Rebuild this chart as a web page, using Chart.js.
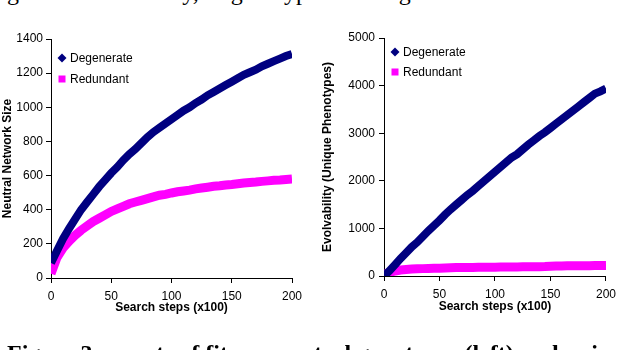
<!DOCTYPE html>
<html>
<head>
<meta charset="utf-8">
<script src="https://cdn.jsdelivr.net/npm/chart.js@4/dist/chart.umd.min.js"></script>
<style>
    html, body { margin: 0; padding: 0; background: #fff; }
    #page { position: relative; width: 622px; height: 350px; overflow: hidden; background: #fff; }
    canvas { position: absolute; top: 0; }
    #leftChart { left: 0; }
    #rightChart { left: 310px; }
    .caption { position: absolute; left: 7px; white-space: nowrap; font-family: "Liberation Serif", "DejaVu Serif", serif; font-size: 24px; line-height: 24px; color: #000; }
    #capTop { top: -20px; }
    #capBottom { top: 341px; font-weight: bold; }
</style>
</head>
<body>
<div id="page">
    <div class="caption" id="capTop">greater evolvability, as genotypes which grows at a much faster rate than the redundant model</div>
    <canvas id="leftChart" width="310" height="350"></canvas>
    <canvas id="rightChart" width="312" height="350"></canvas>
    <div class="caption" id="capBottom">Figure 3: counts of fitness neutral genotypes (left) and unique phenotypes (right)</div>
</div>
<script>
// Search steps (x100), sampled every 5
const steps = [0, 5, 10, 15, 20, 25, 30, 35, 40, 45, 50, 55, 60, 65, 70, 75, 80, 85, 90, 95,
    100, 105, 110, 115, 120, 125, 130, 135, 140, 145, 150, 155, 160, 165, 170, 175, 180, 185, 190, 195, 200];

// Left chart: neutral network size
const neutralDegenerate = [88, 160, 230, 290, 345, 400, 445, 490, 535, 575, 615, 650, 690, 725, 755, 790, 825, 855, 880, 905,
    930, 955, 980, 1000, 1025, 1045, 1070, 1090, 1110, 1130, 1150, 1170, 1190, 1205, 1220, 1240, 1255, 1270, 1285, 1300, 1312];
const neutralRedundant = [25, 120, 175, 215, 250, 280, 305, 330, 350, 370, 390, 405, 420, 435, 445, 455, 465, 475, 485, 490,
    498, 505, 510, 515, 522, 527, 532, 537, 540, 545, 548, 552, 556, 559, 562, 566, 569, 572, 574, 577, 580];

// Right chart: evolvability (unique phenotypes)
const evoDegenerate = [0, 110, 240, 370, 490, 610, 710, 830, 950, 1060, 1170, 1290, 1400, 1500, 1600, 1700, 1790, 1890, 1990, 2090,
    2190, 2290, 2390, 2490, 2560, 2660, 2760, 2850, 2940, 3020, 3110, 3200, 3290, 3380, 3470, 3560, 3650, 3740, 3830, 3880, 3940];
const evoRedundant = [30, 75, 105, 125, 135, 145, 150, 155, 160, 162, 165, 170, 175, 177, 178, 180, 180, 182, 183, 183,
    185, 187, 188, 190, 190, 192, 193, 195, 196, 198, 205, 210, 212, 213, 214, 215, 216, 217, 218, 219, 220];

const xTicks = [0, 50, 100, 150, 200];
const leftYTicks = [0, 200, 400, 600, 800, 1000, 1200, 1400];
const rightYTicks = [0, 1000, 2000, 3000, 4000, 5000];

const seriesNames = ['Degenerate', 'Redundant'];
const navy = '#000080';
const magenta = '#ff00ff';
const fontFamily = '"Liberation Sans", Arial, sans-serif';

function toPoints(values) {
    return steps.map((s, i) => ({ x: s, y: values[i] }));
}

// Legend drawn inside the plot area, like the Excel original
const boxLegend = {
    id: 'boxLegend',
    afterDraw(chart, args, opts) {
        const ctx = chart.ctx;
        ctx.save();
        ctx.font = '12px ' + fontFamily;
        ctx.textBaseline = 'middle';
        ctx.textAlign = 'left';
        chart.data.datasets.forEach((ds, i) => {
            const x = opts.x;
            const y = opts.y + i * opts.gap;
            ctx.fillStyle = ds.borderColor;
            if (ds.pointStyle === 'rectRot') {
                ctx.beginPath();
                ctx.moveTo(x, y - 4.5);
                ctx.lineTo(x + 4.5, y);
                ctx.lineTo(x, y + 4.5);
                ctx.lineTo(x - 4.5, y);
                ctx.closePath();
                ctx.fill();
            } else {
                ctx.fillRect(x - 3.5, y - 3.5, 7, 7);
            }
            ctx.fillStyle = '#000';
            ctx.fillText(ds.label, x + 8, y + 1);
        });
        ctx.restore();
    }
};

function makeChart(id, degValues, redValues, yTicks, yTitle, box) {
    const ctx = document.getElementById(id).getContext('2d');
    return new Chart(ctx, {
        type: 'line',
        data: {
            datasets: [
                {
                    label: seriesNames[0],
                    data: toPoints(degValues),
                    borderColor: navy,
                    backgroundColor: navy,
                    borderWidth: 8,
                    pointStyle: 'rectRot',
                    pointRadius: 0,
                    tension: 0
                },
                {
                    label: seriesNames[1],
                    data: toPoints(redValues),
                    borderColor: magenta,
                    backgroundColor: magenta,
                    borderWidth: 9,
                    pointStyle: 'rect',
                    pointRadius: 0,
                    tension: 0
                }
            ]
        },
        options: {
            responsive: false,
            animation: false,
            layout: { padding: { left: 0, top: box.top, right: box.right, bottom: box.bottom } },
            plugins: {
                legend: { display: false },
                tooltip: { enabled: false },
                boxLegend: box.legend
            },
            scales: {
                x: {
                    type: 'linear',
                    min: 0,
                    max: 200,
                    afterBuildTicks: axis => { axis.ticks = xTicks.map(v => ({ value: v })); },
                    afterFit: axis => { axis.height = box.xHeight; },
                    grid: { drawOnChartArea: false, drawTicks: true, tickLength: 5, color: '#000' },
                    border: { display: true, color: '#000', width: 1 },
                    ticks: { color: '#000', font: { size: 12, family: fontFamily }, padding: 6, maxRotation: 0, callback: v => String(v) },
                    title: {
                        display: true,
                        text: 'Search steps (x100)',
                        color: '#000',
                        font: { size: 12, weight: 'bold', family: fontFamily },
                        padding: 0
                    }
                },
                y: {
                    type: 'linear',
                    min: 0,
                    max: yTicks[yTicks.length - 1],
                    afterBuildTicks: axis => { axis.ticks = yTicks.map(v => ({ value: v })); },
                    afterFit: axis => { axis.width = box.yWidth; },
                    grid: { drawOnChartArea: false, drawTicks: true, tickLength: 5, color: '#000' },
                    border: { display: true, color: '#000', width: 1 },
                    ticks: { color: '#000', font: { size: 12, family: fontFamily }, padding: box.yPad, callback: v => String(v) },
                    title: {
                        display: true,
                        text: yTitle,
                        color: '#000',
                        font: { size: 12, weight: 'bold', family: fontFamily },
                        padding: { top: box.titlePad, bottom: 0 }
                    }
                }
            }
        },
        plugins: [boxLegend]
    });
}

makeChart('leftChart', neutralDegenerate, neutralRedundant, leftYTicks, 'Neutral Network Size', {
    top: 39, right: 18, bottom: 35, xHeight: 37, yWidth: 51, yPad: 3, titlePad: 0,
    legend: { x: 62, y: 58, gap: 21 }
});

makeChart('rightChart', evoDegenerate, evoRedundant, rightYTicks, 'Evolvability (Unique Phenotypes)', {
    top: 38, right: 10, bottom: 36, xHeight: 38, yWidth: 74, yPad: 4, titlePad: 10,
    legend: { x: 85, y: 52, gap: 20 }
});
</script>
</body>
</html>
